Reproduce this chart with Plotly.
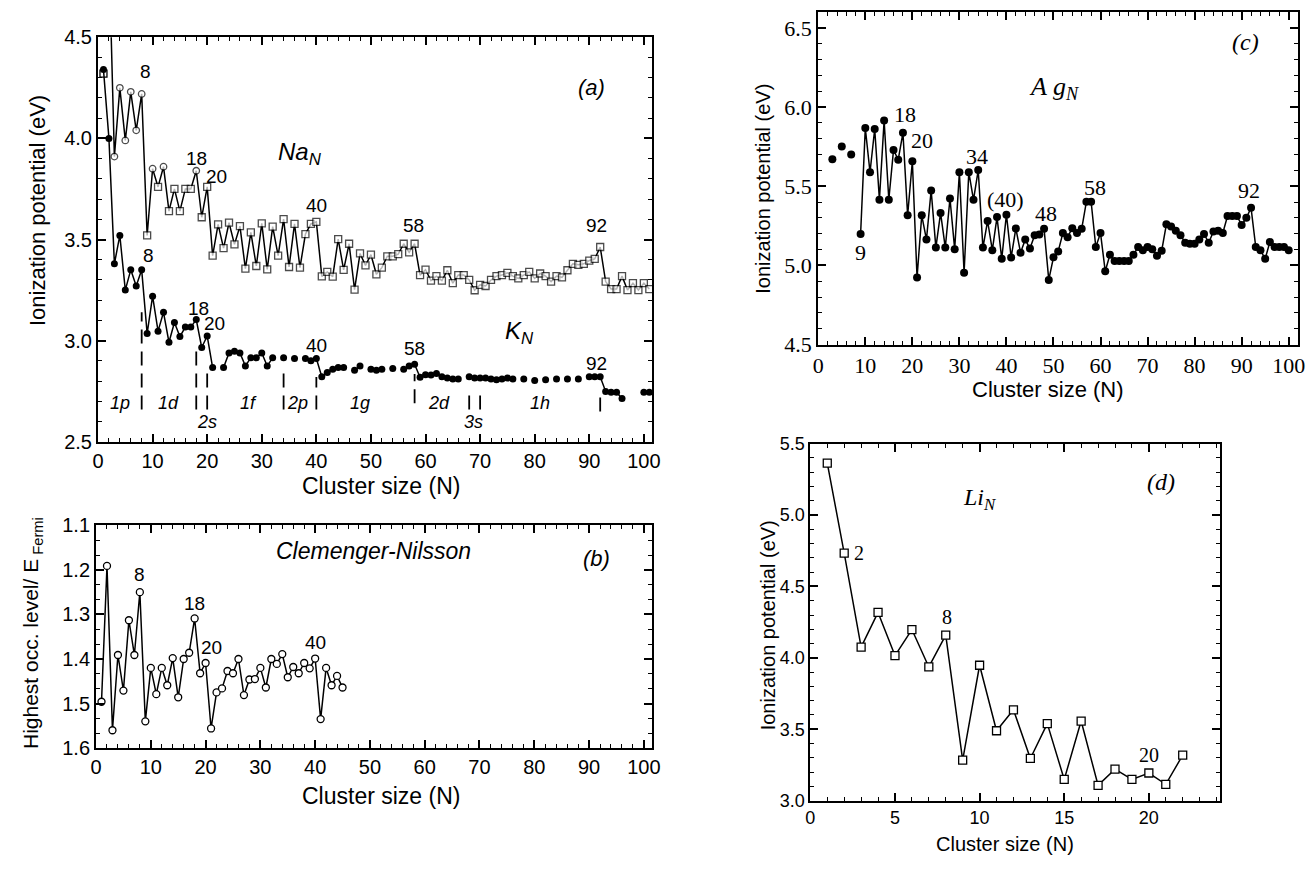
import plotly.graph_objects as go

W, H = 1315, 869
SANS = "Liberation Sans, Arial, Helvetica, sans-serif"
SERIF = "Liberation Serif, Times New Roman, serif"

# ---------------- (a) Na_N and K_N ionization potentials ----------------
na_n = list(range(2, 102))
na_ip = [4.93, 3.91, 4.25, 3.99, 4.23, 4.04, 4.22, 3.52, 3.85, 3.76,
         3.86, 3.64, 3.75, 3.64, 3.75, 3.75, 3.84, 3.61, 3.76, 3.42,
         3.575, 3.457, 3.583, 3.476, 3.566, 3.356, 3.535, 3.369, 3.58, 3.352,
         3.564, 3.42, 3.601, 3.364, 3.577, 3.361, 3.527, 3.577, 3.587, 3.318,
         3.34, 3.316, 3.502, 3.35, 3.479, 3.252, 3.431, 3.372, 3.425, 3.328,
         3.361, 3.417, 3.417, 3.428, 3.479, 3.436, 3.479, 3.324, 3.351, 3.297,
         3.319, 3.297, 3.348, 3.284, 3.324, 3.324, 3.30, 3.249, 3.276, 3.27,
         3.30, 3.319, 3.324, 3.335, 3.319, 3.308, 3.324, 3.34, 3.308, 3.332,
         3.319, 3.292, 3.319, 3.313, 3.348, 3.38, 3.375, 3.38, 3.396, 3.404,
         3.463, 3.292, 3.255, 3.255, 3.319, 3.25, 3.284, 3.25, 3.284, 3.255]
na_circle_n = [3, 4, 5, 6, 7, 8, 10, 12, 18]
na_single_n = [1]
na_single_ip = [4.32]

k_n = list(range(1, 102))
k_ip = [4.34, 4.00, 3.38, 3.52, 3.25, 3.35, 3.27, 3.35, 3.035, 3.22,
        3.047, 3.14, 2.992, 3.09, 3.02, 3.067, 3.067, 3.104, 2.966, 3.023,
        2.867, None, 2.867, 2.939, 2.947, 2.939, 2.875, 2.915, 2.915, 2.939,
        2.875, 2.915, None, 2.915, None, 2.912, None, 2.912, 2.90, 2.912,
        2.822, 2.843, 2.859, 2.867, 2.867, None, 2.854, 2.875, None, 2.859,
        2.854, 2.859, None, 2.862, None, 2.859, 2.875, 2.883, 2.819, 2.831,
        2.83, 2.838, 2.822, 2.815, 2.81, 2.81, None, 2.822, 2.815, 2.815,
        2.815, 2.81, 2.807, 2.81, 2.815, 2.81, None, 2.81, None, 2.803,
        None, 2.807, None, 2.81, None, 2.81, None, 2.81, None, 2.822,
        2.822, 2.822, 2.749, 2.745, 2.745, 2.714, None, None, None, 2.745,
        2.745]

shell_edge_n = [8, 18, 20, 34, 40, 58, 68, 70, 92]
shell_edge_top = [3.14, 2.97, 2.85, 2.86, 2.82, 2.835, 2.74, 2.74, 2.73]
shell_edge_bottom = [2.66, 2.66, 2.66, 2.66, 2.66, 2.69, 2.66, 2.66, 2.65]
shell_names = ["1p", "1d", "2s", "1f", "2p", "1g", "2d", "3s", "1h"]
shell_name_n = [4, 13, 20, 27.5, 36.5, 48, 62.5, 68.8, 81]
shell_name_ip = [2.69, 2.69, 2.60, 2.69, 2.69, 2.69, 2.69, 2.60, 2.69]

na_magic_n = [8.7, 18.1, 21.7, 40, 57.8, 91.3]
na_magic_ip = [4.33, 3.90, 3.81, 3.67, 3.57, 3.57]
na_magic_txt = ["8", "18", "20", "40", "58", "92"]
k_magic_n = [9.2, 18.4, 21.4, 40, 58, 91.4]
k_magic_ip = [3.42, 3.16, 3.083, 2.975, 2.963, 2.886]
k_magic_txt = ["8", "18", "20", "40", "58", "92"]

# ---------------- (b) Clemenger-Nilsson highest occupied level ----------------
cn_n = list(range(1, 46))
cn_level = [1.496, 1.191, 1.56, 1.391, 1.471, 1.313, 1.391, 1.25, 1.54, 1.42,
            1.479, 1.42, 1.459, 1.398, 1.486, 1.40, 1.386, 1.309, 1.432, 1.409,
            1.556, 1.475, 1.466, 1.427, 1.432, 1.40, 1.481, 1.446, 1.445, 1.42,
            1.464, 1.40, 1.411, 1.389, 1.441, 1.418, 1.432, 1.409, 1.421, 1.399,
            1.535, 1.42, 1.459, 1.438, 1.464]
cn_magic_n = [8, 18, 21, 40]
cn_magic_lv = [1.211, 1.276, 1.375, 1.362]
cn_magic_txt = ["8", "18", "20", "40"]

# ---------------- (c) Ag_N ionization potentials ----------------
ag_n = list(range(1, 101))
ag_ip = [None, None, 5.67, None, 5.75, None, 5.70, None, 5.198, 5.867,
         5.588, 5.861, 5.414, 5.914, 5.414, 5.729, 5.667, 5.837, 5.316, 5.657,
         4.924, 5.316, 5.163, 5.473, 5.112, 5.331, 5.112, 5.422, 5.102, 5.588,
         4.953, 5.588, 5.414, 5.602, 5.112, 5.280, 5.096, 5.305, 5.041, 5.320,
         5.05, 5.233, 5.08, 5.163, 5.106, 5.19, 5.194, 5.231, 4.908, 5.051,
         5.088, 5.204, 5.178, 5.235, 5.204, 5.231, 5.402, 5.402, 5.116, 5.204,
         4.963, 5.067, 5.027, 5.027, 5.027, 5.027, 5.067, 5.116, 5.096, 5.116,
         5.102, 5.061, 5.092, 5.259, 5.245, 5.218, 5.190, 5.143, 5.137, 5.137,
         5.163, 5.198, 5.143, 5.214, 5.218, 5.204, 5.312, 5.312, 5.312, 5.255,
         5.30, 5.363, 5.116, 5.096, 5.041, 5.147, 5.116, 5.116, 5.116, 5.096]
ag_magic_n = [9, 18.4, 22, 33.8, 39.9, 48.5, 58.8, 91.6]
ag_magic_ip = [5.082, 5.953, 5.786, 5.688, 5.418, 5.327, 5.49, 5.47]
ag_magic_txt = ["9", "18", "20", "34", "(40)", "48", "58", "92"]

# ---------------- (d) Li_N ionization potentials ----------------
li_n = list(range(1, 23))
li_ip = [5.364, 4.734, 4.075, 4.318, 4.016, 4.198, 3.936, 4.159, 3.284, 3.948,
         3.489, 3.636, 3.295, 3.539, 3.148, 3.557, 3.107, 3.22, 3.148, 3.193,
         3.114, 3.318]
li_magic_n = [2.9, 8.1, 20]
li_magic_ip = [4.734, 4.284, 3.318]
li_magic_txt = ["2", "8", "20"]


def fx(p):
    return p / W


def fy(p):
    return 1 - p / H


def axis(domain, rng, dtick, minor, family, size, anchor, fmt=None):
    return dict(
        domain=domain, range=rng, dtick=dtick, tick0=0, anchor=anchor,
        ticks="inside", ticklen=8, tickwidth=1.5, tickcolor="black",
        showline=True, linecolor="black", linewidth=2, mirror="allticks",
        showgrid=False, zeroline=False, tickformat=fmt,
        tickfont=dict(family=family, size=size, color="black"),
        minor=dict(dtick=minor, tick0=0, ticks="inside", ticklen=4,
                   tickwidth=1.2, tickcolor="black", showgrid=False),
    )


fig = go.Figure()
LINE = dict(color="black", width=1.5)

# (a)
fig.add_trace(go.Scatter(x=na_single_n, y=na_single_ip, mode="markers", xaxis="x", yaxis="y",
                         marker=dict(symbol="square", size=7, color="white",
                                     line=dict(color="black", width=1.3)),
                         showlegend=False))
na_sym = ["circle" if n in na_circle_n else "square" for n in na_n]
na_size = [6.5 if n in na_circle_n else 7 for n in na_n]
fig.add_trace(go.Scatter(x=na_n, y=na_ip, mode="lines+markers", xaxis="x", yaxis="y",
                         line=LINE,
                         marker=dict(symbol=na_sym, size=na_size, color="white",
                                     line=dict(color="black", width=1.3)),
                         showlegend=False))
fig.add_trace(go.Scatter(x=k_n, y=k_ip, mode="lines+markers", xaxis="x", yaxis="y",
                         line=LINE, connectgaps=False,
                         marker=dict(symbol="circle", size=7, color="black"),
                         showlegend=False))

# (b)
fig.add_trace(go.Scatter(x=cn_n, y=cn_level, mode="lines+markers", xaxis="x2", yaxis="y2",
                         line=LINE,
                         marker=dict(symbol="circle", size=7, color="white",
                                     line=dict(color="black", width=1.3)),
                         showlegend=False))

# (c)
fig.add_trace(go.Scatter(x=ag_n, y=ag_ip, mode="lines+markers", xaxis="x3", yaxis="y3",
                         line=LINE, connectgaps=False,
                         marker=dict(symbol="circle", size=8, color="black"),
                         showlegend=False))

# (d)
fig.add_trace(go.Scatter(x=li_n, y=li_ip, mode="lines+markers", xaxis="x4", yaxis="y4",
                         line=LINE,
                         marker=dict(symbol="square", size=8, color="white",
                                     line=dict(color="black", width=1.3)),
                         showlegend=False))

shapes = []
for n, top, bot in zip(shell_edge_n, shell_edge_top, shell_edge_bottom):
    shapes.append(dict(type="line", xref="x", yref="y", x0=n, x1=n, y0=bot, y1=top,
                       line=dict(color="black", width=1.8, dash="14px,8px")))

ann = []


def text(x, y, s, xref, yref, family=SANS, size=19, italic=False, angle=0):
    if italic:
        s = "<i>" + s + "</i>"
    ann.append(dict(x=x, y=y, xref=xref, yref=yref, text=s, showarrow=False,
                    textangle=angle, xanchor="center", yanchor="middle",
                    font=dict(family=family, size=size, color="black")))


for n, v, t in zip(na_magic_n, na_magic_ip, na_magic_txt):
    text(n, v, t, "x", "y")
for n, v, t in zip(k_magic_n, k_magic_ip, k_magic_txt):
    text(n, v, t, "x", "y")
for n, v, t in zip(shell_name_n, shell_name_ip, shell_names):
    text(n, v, t, "x", "y", size=18, italic=True)
text(37, 3.925, "Na<sub>N</sub>", "x", "y", size=24, italic=True)
text(77.3, 3.04, "K<sub>N</sub>", "x", "y", size=24, italic=True)
text(90.5, 4.25, "(a)", "x", "y", size=22, italic=True)

for n, v, t in zip(cn_magic_n, cn_magic_lv, cn_magic_txt):
    text(n, v, t, "x2", "y2")
text(50.6, 1.157, "Clemenger-Nilsson", "x2", "y2", size=23, italic=True)
text(91.4, 1.175, "(b)", "x2", "y2", size=22, italic=True)

for n, v, t in zip(ag_magic_n, ag_magic_ip, ag_magic_txt):
    text(n, v, t, "x3", "y3", family=SERIF, size=22)
text(50.2, 6.12, "A g<sub>N</sub>", "x3", "y3", family=SERIF, size=26, italic=True)
text(90.8, 6.41, "(c)", "x3", "y3", family=SERIF, size=24, italic=True)

for n, v, t in zip(li_magic_n, li_magic_ip, li_magic_txt):
    text(n, v, t, "x4", "y4", family=SERIF, size=20)
text(10, 5.11, "Li<sub>N</sub>", "x4", "y4", family=SERIF, size=24, italic=True)
text(20.7, 5.23, "(d)", "x4", "y4", family=SERIF, size=24, italic=True)

# axis titles
text(fx(32), fy(205), "Ionization potential (eV)", "paper", "paper", size=22, angle=-90)
text(fx(379), fy(489), "Cluster size (N)", "paper", "paper", size=23)
text(fx(27), fy(640), "Highest occ. level/ E<sub> Fermi</sub>", "paper", "paper", size=21, angle=-90)
text(fx(379), fy(807), "Cluster size (N)", "paper", "paper", size=23)
text(fx(765), fy(183), "Ionization potential (eV)", "paper", "paper", size=20, angle=-90)
text(fx(1053), fy(389), "Cluster size (N)", "paper", "paper", size=22)
text(fx(770), fy(632), "Ionization potential (eV)", "paper", "paper", size=20, angle=-90)
text(fx(1010), fy(857), "Cluster size (N)", "paper", "paper", size=20)

fig.update_layout(
    width=W, height=H, margin=dict(l=0, r=0, t=0, b=0),
    paper_bgcolor="white", plot_bgcolor="white", showlegend=False,
    xaxis=axis([fx(93), fx(653)], [0, 101.5], 10, 2, SANS, 20, "y"),
    yaxis=axis([fy(443), fy(27)], [2.5, 4.5], 0.5, 0.1, SANS, 20, "x", ".1f"),
    xaxis2=axis([fx(91), fx(653)], [0, 101.5], 10, 2, SANS, 20, "y2"),
    yaxis2=axis([fy(758), fy(529)], [1.6, 1.1], 0.1, 0.1 / 3, SANS, 20, "x2", ".1f"),
    xaxis3=axis([fx(821), fx(1306)], [0, 102], 10, 2, SERIF, 22, "y3"),
    yaxis3=axis([fy(343), fy(1)], [4.5, 6.6], 0.5, 0.1, SERIF, 22, "x3", ".1f"),
    xaxis4=axis([fx(813), fx(1227)], [0, 24.2], 5, 1, SANS, 18, "y4"),
    yaxis4=axis([fy(812), fy(445)], [3.0, 5.5], 0.5, 0.1, SANS, 18, "x4", ".1f"),
    shapes=shapes, annotations=ann,
)

fig.write_html("out.html")
